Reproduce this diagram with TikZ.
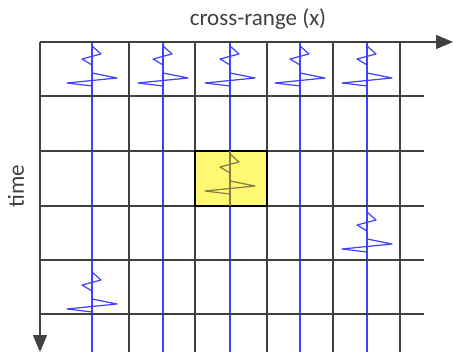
\documentclass[tikz,border=0pt]{standalone}
\usepackage{fontspec}
\setmainfont{Carlito}
\usetikzlibrary{arrows.meta}

\begin{document}
\begin{tikzpicture}[x=1pt,y=-1pt,
grid/.style={draw=black!75, line width=1.3pt},
axis/.style={grid, -{Triangle[length=17pt,width=14pt]}},
trace/.style={draw=blue!75, line width=1.2pt, line join=round},
hilite/.style={fill=yellow!55, draw=black, line width=1.4pt},
label/.style={font=\fontsize{23}{26}\selectfont, text=black!75},
wiggle/.pic={\draw[pic actions] (0,0) -- ++(9,8) -- ++(-19,5) -- ++(10,6) -- ++(0,8)
  -- ++(25,5) -- ++(-50,5) -- ++(25,3);}]
\useasboundingbox (0,0) rectangle (454,355);
% traces
\foreach \x in {92,163,230,300,367}
  \draw[trace] (\x,42) -- (\x,352);
% grid
\foreach \y in {96,151,206,260,314}
  \draw[grid] (40,\y) -- (424,\y);
\foreach \x in {129,195,267,333,400}
  \draw[grid] (\x,42) -- (\x,352);
\draw[axis] (40,42) -- (453,42);
\draw[axis] (40,42) -- (40,352);
% highlighted sample
\draw[hilite] (195,151) rectangle (267,206);
\draw[trace, draw=black!45!yellow!80!black] (230,151) -- (230,206);
\pic[trace, draw=black!45!yellow!80!black] at (230,154) {wiggle};
% wiggles
\foreach \x in {92,163,230,300,367}
  \pic[trace] at (\x,46) {wiggle};
\pic[trace] at (367,212) {wiggle};
\pic[trace] at (92,272) {wiggle};
% labels
\node[label] (xlabel) at (258,19) {cross-range (x)};
\node[label, rotate=90] (tlabel) at (16,186) {time};
\end{tikzpicture}
\end{document}
